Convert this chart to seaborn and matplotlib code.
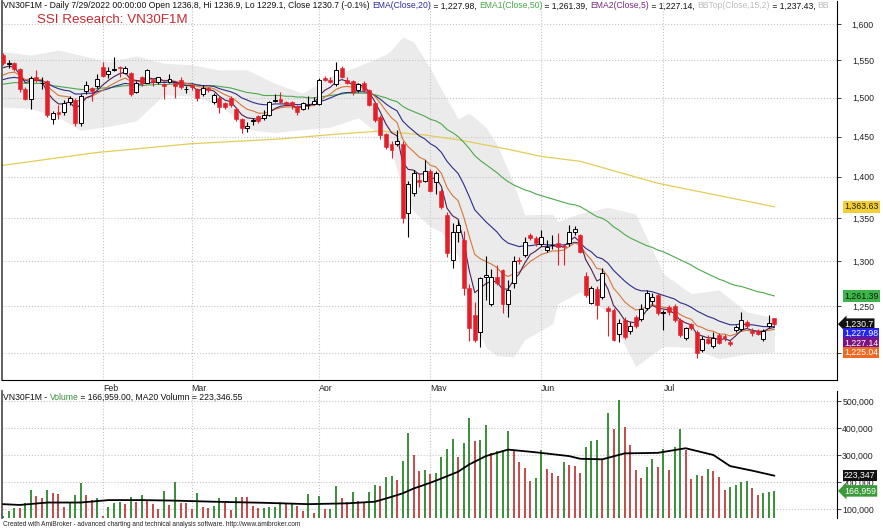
import matplotlib
matplotlib.use("Agg")
import matplotlib.pyplot as plt
import seaborn as sns
import numpy as np
from matplotlib.ticker import FixedLocator, NullLocator, FuncFormatter, NullFormatter

# ---------------- data ----------------
month_labels = ["Feb", "Mar", "Apr", "May", "Jun", "Jul"]
month_start_bar = [18, 34, 57, 77, 97, 119]

opens = [1557,1545,1546,1538,1512,1498,1527,1519,1522,1472,
 1482,1482,1494,1497,1467,1509,1513,1515,1541,1531,
 1537,1541,1533,1533,1508,1527,1520,1524,1521,1518,
 1521,1519,1524,1511,1517,1512,1505,1513,1494,1500,
 1493,1500,1485,1472,1461,1470,1476,1474,1477,1496,
 1499,1494,1494,1489,1486,1490,1492,1492,1526,1524,
 1518,1540,1524,1522,1510,1520,1510,1493,1475,1453,
 1441,1440,1441,1356,1380,1396,1395,1407,1394,1383,
 1354,1302,1334,1325,1270,1240,1222,1282,1253,1282,
 1290,1253,1276,1302,1307,1331,1327,1320,1313,1318.5,
 1321,1318,1321,1334,1330,1284,1254,1269,1260,1248,
 1246,1220,1235,1223,1238,1236,1248,1256,1262,1243,
 1249,1250,1235,1216,1231,1222,1203,1215,1207,1219,
 1218,1212,1224,1225,1233,1223,1223,1215,1229,1236.8]
highs = [1560,1551,1548,1540,1514,1529,1537,1528,1524,1483,
 1490,1497,1503,1500,1505,1522,1514,1531,1548,1541,
 1555,1542,1542,1534,1522,1529,1538,1526,1528,1519,
 1532,1520,1527,1516,1518,1513,1517,1514,1506,1502,
 1494,1502,1488,1474,1468,1474,1478,1484,1496,1505,
 1508,1496,1496,1491,1495,1503,1501,1526,1529,1527,
 1548,1542,1527,1524,1519,1522,1512,1494,1477,1455,
 1444,1458,1444,1395,1408,1405,1420,1409,1407,1385,
 1357,1345,1348,1335,1275,1255,1283,1306,1292,1296,
 1292,1279,1306,1305,1328,1333,1329,1336,1325,1330,
 1333,1320,1342,1341,1332,1288,1272,1272,1293,1250,
 1248,1236,1238,1233,1240,1252,1268,1265,1265,1246,
 1251,1253,1237,1228,1232,1224,1218,1219,1222,1221,
 1220,1214,1230,1244,1235,1226,1225,1225,1240,1236.9]
lows = [1544,1540,1535,1508,1497,1485,1521,1512,1475,1466,
 1472,1477,1491,1464,1464,1505,1496,1513,1527,1526,
 1536,1528,1531,1503,1506,1516,1519,1515,1518,1499,
 1519,1500,1511,1506,1510,1496,1503,1508,1492,1480,
 1486,1488,1470,1454,1456,1465,1467,1471,1476,1494,
 1493,1489,1486,1477,1484,1486,1490,1490,1522,1519,
 1516,1526,1518,1504,1507,1508,1489,1469,1447,1434,
 1423,1438,1344,1328,1376,1388,1393,1381,1379,1361,
 1305,1293,1322,1262,1213,1212,1206,1257,1250,1274,
 1243,1238,1270,1297,1305,1325,1318,1318,1311,1314,
 1296,1296,1318,1330,1310,1260,1252,1236,1258,1218,
 1213,1212,1215,1220,1226,1234,1246,1253,1241,1224,
 1241,1233,1217,1214,1224,1195,1201,1210,1205,1209,
 1213,1207,1222,1223,1226,1218,1219,1213,1226,1229.1]
closes = [1546,1547,1538,1511,1499,1526,1523,1520,1478,1480,
 1479,1493,1500,1467,1503,1517,1509,1525,1529,1535,
 1538,1539,1539,1505,1520,1520,1537,1521,1527,1516,
 1525,1515,1514,1512,1514,1500,1513,1510,1504,1488,
 1488,1490,1472,1461,1464,1471,1470,1478,1494,1497,
 1494,1492,1490,1482,1493,1491,1496,1524,1524,1521,
 1537,1528,1520,1507,1518,1510,1490,1471,1452,1437,
 1433,1444,1350,1391,1405,1393,1407,1383,1404,1364,
 1310,1334,1342,1270,1226,1214,1281,1285,1282,1276,
 1253,1268,1300,1300,1322,1327,1321,1328,1316,1319,
 1316,1317,1334,1337,1311,1262,1270,1251,1287,1245,
 1214,1232,1217,1229,1229,1247,1265,1260,1243,1244,
 1244,1235,1219,1226,1226,1200,1215,1211,1216,1211,
 1216,1210,1228,1235,1229,1221,1220,1223,1232,1230.7]
prev_close = 1232.0

ema5 = [1540,1542,1541,1531,1520,1522,1523,1522,1507,1498,
 1492,1492,1495,1486,1491,1500,1503,1510,1517,1523,
 1528,1532,1534,1524,1523,1522,1527,1525,1526,1522,
 1523,1521,1518,1516,1516,1510,1511,1511,1509,1502,
 1497,1495,1487,1478,1474,1473,1472,1474,1481,1486,
 1489,1490,1490,1487,1489,1490,1492,1503,1510,1514,
 1521,1524,1522,1517,1518,1515,1507,1495,1481,1466,
 1455,1451,1418,1409,1408,1403,1404,1397,1399,1388,
 1362,1353,1349,1323,1290,1265,1270,1275,1278,1277,
 1269,1269,1279,1286,1298,1308,1312,1317,1317,1318,
 1317,1317,1323,1328,1322,1302,1291,1278,1281,1269,
 1251,1244,1235,1233,1232,1237,1246,1251,1248,1247,
 1246,1242,1235,1232,1230,1220,1218,1216,1216,1214,
 1215,1213,1218,1224,1226,1224,1223,1223,1226,1227.14]
ema10 = [1530,1533,1534,1530,1524,1525,1524,1524,1515,1509,
 1503,1502,1501,1495,1497,1500,1502,1506,1510,1515,
 1519,1523,1526,1522,1522,1521,1524,1524,1524,1523,
 1523,1522,1520,1519,1518,1515,1514,1514,1512,1508,
 1504,1501,1496,1490,1485,1483,1480,1480,1482,1485,
 1487,1488,1488,1487,1488,1489,1490,1496,1501,1505,
 1511,1514,1515,1514,1514,1514,1509,1502,1493,1483,
 1474,1468,1447,1437,1431,1424,1421,1414,1412,1404,
 1387,1377,1371,1352,1329,1308,1303,1300,1297,1293,
 1286,1283,1286,1288,1294,1300,1304,1308,1310,1312,
 1312,1313,1317,1321,1319,1309,1302,1292,1291,1283,
 1270,1263,1255,1250,1246,1247,1250,1252,1250,1249,
 1248,1246,1241,1238,1236,1229,1227,1224,1223,1220,
 1220,1218,1220,1223,1224,1223,1223,1223,1224,1225.04]
ema20 = [1524,1526,1527,1526,1523,1524,1523,1523,1519,1515,
 1512,1510,1509,1505,1505,1506,1506,1508,1510,1512,
 1515,1517,1519,1518,1518,1518,1520,1520,1521,1520,
 1521,1520,1520,1519,1519,1517,1516,1516,1515,1512,
 1510,1508,1505,1500,1497,1494,1492,1491,1491,1492,
 1492,1492,1492,1491,1491,1491,1492,1495,1497,1500,
 1503,1506,1507,1507,1508,1508,1507,1503,1498,1492,
 1487,1483,1470,1463,1457,1451,1447,1441,1437,1430,
 1419,1411,1404,1391,1376,1360,1353,1346,1340,1334,
 1326,1321,1319,1317,1318,1318,1319,1320,1319,1319,
 1319,1319,1320,1322,1321,1315,1311,1305,1303,1298,
 1290,1284,1278,1273,1269,1267,1267,1266,1264,1262,
 1260,1258,1254,1252,1249,1245,1242,1239,1237,1234,
 1232,1230,1230,1231,1230,1230,1229,1228,1228,1227.98]
ema50 = [1518,1519,1520,1520,1519,1519,1519,1519,1518,1516,
 1515,1514,1513,1512,1511,1511,1511,1512,1513,1513,
 1514,1515,1516,1516,1516,1516,1517,1517,1518,1517,
 1518,1518,1518,1517,1517,1517,1516,1516,1516,1515,
 1514,1513,1511,1509,1507,1506,1505,1503,1503,1503,
 1503,1502,1502,1501,1501,1500,1500,1501,1502,1503,
 1504,1505,1506,1506,1506,1506,1506,1504,1502,1500,
 1497,1495,1489,1485,1482,1479,1476,1472,1470,1466,
 1459,1455,1450,1443,1435,1426,1420,1415,1410,1405,
 1399,1394,1390,1387,1384,1382,1379,1377,1375,1373,
 1371,1369,1367,1366,1364,1360,1356,1352,1350,1346,
 1340,1336,1331,1327,1324,1321,1318,1316,1313,1311,
 1308,1305,1302,1299,1296,1292,1289,1286,1283,1280,
 1278,1275,1273,1272,1270,1268,1266,1265,1263,1261.39]

yellow_idx = [0, 17, 34, 50, 60, 68, 76, 82, 91, 97, 104, 118, 139]
yellow_vals = [1414, 1430, 1441, 1447, 1453, 1457, 1452, 1446, 1434, 1425, 1419, 1392, 1363.63]

bb_idx = [0, 5, 10, 14, 19, 24, 29, 34, 39, 44, 49, 54, 59, 64, 69, 70, 72, 74, 77, 79,
          82, 84, 87, 89, 92, 94, 99, 100, 104, 109, 114, 119, 124, 129, 134, 139]
bb_upper = [1562, 1557, 1564, 1557, 1548, 1556, 1546, 1544, 1537, 1537, 1519, 1506, 1528, 1542,
            1558, 1564, 1582, 1575, 1539, 1511, 1473, 1480, 1462, 1440, 1392, 1354, 1355, 1346,
            1356, 1363, 1355, 1286, 1264, 1268, 1244, 1237.43]
bb_lower = [1488, 1486, 1475, 1458, 1463, 1470, 1504, 1502, 1492, 1459, 1455, 1459, 1462, 1474,
            1446, 1432, 1384, 1358, 1340, 1334, 1307, 1248, 1206, 1197, 1196, 1214, 1231, 1253,
            1266, 1243, 1186, 1207, 1206, 1194, 1199, 1201]

volumes = [74000,94000,104000,102000,121000,172000,148000,139000,172000,160000,
 157000,107000,127000,151000,195000,151000,133000,141000,74000,109000,
 124000,126000,117000,146000,127000,151000,133000,118000,99000,167000,
 113000,201000,124000,121000,99000,158000,109000,102000,111000,139000,
 121000,96000,146000,145000,143000,111000,102000,104000,106000,109000,
 127000,117000,119000,111000,94000,155000,84000,147000,99000,101000,
 185000,139000,127000,164000,129000,127000,164000,189000,187000,220000,
 222000,207000,277000,382000,300000,242000,243000,230000,232000,294000,
 322000,358000,291000,346000,438000,353000,356000,411000,309000,316000,
 318500,390000,318000,275000,253000,204000,216000,318000,248000,232000,
 223000,275000,263000,260000,232000,331000,353000,356000,281000,457000,
 395000,504000,405000,337000,244000,216000,257000,286000,257000,322000,
 244000,331000,396000,318000,210000,227000,223000,249000,242000,220000,
 170000,182000,190000,199000,205000,179000,152000,160000,163000,166959]

vol_ma_idx = [0, 3, 8, 14, 19, 25, 31, 38, 47, 55, 62, 67, 70, 72, 74, 76, 78, 82, 84, 87, 91,
              96, 102, 104, 108, 112, 118, 123, 126, 128, 131, 135, 139]
vol_ma_vals = [118000, 115000, 124000, 124000, 133000, 133000, 131000, 127000, 123000, 118000,
               121000, 127000, 145000, 158000, 176000, 190000, 205000, 238000, 265000, 296000,
               320000, 310000, 296000, 286000, 284000, 306000, 308000, 325000, 310000, 300000,
               259000, 242000, 223346.55]

price_ticks = [1200, 1250, 1300, 1350, 1400, 1450, 1500, 1550, 1600]
vol_ticks = [100000, 200000, 300000, 400000, 500000]

# ---------------- styling ----------------
sns.set_style("white")
plt.rcParams['font.family'] = ['Liberation Sans', 'DejaVu Sans']

W, H = 883, 529
fig = plt.figure(figsize=(W / 100, H / 100), dpi=100)
fig.patch.set_facecolor('white')


def fx(px):
    return px / W


def fy(py):
    return 1 - py / H


ax = fig.add_axes([fx(2), fy(380), (837 - 2) / W, (380 - 1) / H])
axv = fig.add_axes([fx(2), fy(518), (837 - 2) / W, (518 - 391) / H])

RED = '#e3202a'
GRID = '#c4c4c4'
n = len(closes)
idx = np.arange(n)
o = np.array(opens, float)
c = np.array(closes, float)
h = np.array(highs, float)
l = np.array(lows, float)
up = c >= o

ax.set_yscale('log')
ax.set_ylim(1172, 1632.5)

# Bollinger band area
ax.fill_between(bb_idx, bb_lower, bb_upper, color='#ebebeb', lw=0, zorder=0.3)

# indicator lines (seaborn)
sns.lineplot(x=yellow_idx, y=yellow_vals, ax=ax, color='#e2cd5a', lw=0.9, zorder=1.5)
sns.lineplot(x=idx, y=ema50, ax=ax, color='#4aaa4a', lw=0.8, zorder=1.6)
sns.lineplot(x=idx, y=ema20, ax=ax, color='#2c2c8c', lw=0.8, zorder=1.7)
sns.lineplot(x=idx, y=ema10, ax=ax, color='#d4773a', lw=0.8, zorder=1.8)
sns.lineplot(x=idx, y=ema5, ax=ax, color='#4e1f55', lw=0.8, zorder=1.9)

# candles
ax.vlines(idx[up], l[up], h[up], color='black', lw=0.8, zorder=3)
ax.vlines(idx[~up], l[~up], h[~up], color=RED, lw=0.8, zorder=3)
bw = 0.72
ax.bar(idx[up], c[up] - o[up], bottom=o[up], width=bw, color='white',
       edgecolor='black', lw=0.7, zorder=4)
ax.bar(idx[~up], o[~up] - c[~up], bottom=c[~up], width=bw, color=RED,
       edgecolor=RED, lw=0.4, zorder=4)

# volume
v = np.array(volumes, float)
vcol = ['#3a8e3a' if (i == 0 or v[i] > v[i - 1]) else '#c44a4a' for i in range(n)]
vbase, vtop = 66700, 537000
axv.set_ylim(vbase, vtop)
axv.vlines(idx, vbase, v, colors=vcol, lw=1.4, zorder=2)
sns.lineplot(x=vol_ma_idx, y=vol_ma_vals, ax=axv, color='black', lw=1.3, zorder=3)

# axes cosmetics
for a in (ax, axv):
    a.set_xlim(-0.18, 150.27)
    a.xaxis.set_major_locator(FixedLocator(month_start_bar))
    a.set_axisbelow(True)
    a.grid(True, which='major', color=GRID, ls=':', lw=0.8)
    a.set_xlabel('')
    a.set_ylabel('')
    a.spines['top'].set_visible(False)
    a.spines['left'].set_color('#555555')
    a.spines['left'].set_linewidth(1.3)
    a.spines['right'].set_color('black')
    a.spines['right'].set_linewidth(0.8)
    a.yaxis.tick_right()
    a.set_facecolor('white')

ax.spines['bottom'].set_color('black')
ax.spines['bottom'].set_linewidth(0.8)
axv.spines['bottom'].set_visible(False)

hidden_price_label = 1200  # covered by the value tags in the reference
ax.yaxis.set_major_locator(FixedLocator(price_ticks))
ax.yaxis.set_minor_locator(NullLocator())
ax.yaxis.set_minor_formatter(NullFormatter())
ax.yaxis.set_major_formatter(FuncFormatter(
    lambda val, p: '' if abs(val - hidden_price_label) < 1 else f"{val:,.0f}"))
axv.yaxis.set_major_locator(FixedLocator(vol_ticks))
axv.yaxis.set_major_formatter(FuncFormatter(lambda val, p: f"{val:,.0f}"))

for a in (ax, axv):
    a.tick_params(axis='y', which='major', direction='out', length=3, width=0.6,
                  pad=23.5, labelsize=6.3, colors='#222222')
    for t in a.yaxis.get_major_ticks():
        t.label2.set_horizontalalignment('right')

ax.set_xticklabels(month_labels)
ax.tick_params(axis='x', direction='out', length=3, width=0.6, pad=0.0,
               labelsize=6.3, colors='#222222')
for t in ax.xaxis.get_major_ticks():
    t.label1.set_horizontalalignment('left')
axv.tick_params(axis='x', length=0, labelbottom=False)


# ---------------- texts ----------------
def chain(host, x_px, y_px, pieces, size, clip=False):
    t = fig.text(fx(x_px), fy(y_px), pieces[0][0], color=pieces[0][1], fontsize=size,
                 ha='left', va='center', zorder=30)
    for s, col in pieces[1:]:
        t = host.annotate(s, xy=(1, 0.5), xycoords=t, ha='left', va='center', fontsize=size,
                          color=col, annotation_clip=False, clip_on=clip, zorder=30)
    return t


pct = (closes[-1] / prev_close - 1) * 100
head = (f"VN30F1M - Daily 7/29/2022 00:00:00 Open {opens[-1]}, Hi {highs[-1]}, "
        f"Lo {lows[-1]}, Close {closes[-1]} ({pct:.1f}%) ")
chain(ax, 3, 6, [(head, '#111111'),
                 ("EMA(Close,20)", '#2c2ca0'), (f" = {ema20[-1]:,.2f}, ", '#111111'),
                 ("EMA1(Close,50)", '#45a845'), (f" = {ema50[-1]:,.2f}, ", '#111111'),
                 ("EMA2(Close,5)", '#7a2a7a'), (f" = {ema5[-1]:,.2f}, ", '#111111'),
                 ("BBTop(Close,15,2)", '#bdbdbd'), (f" = {bb_upper[-1]:,.2f}, ", '#111111'),
                 ("BB", '#bdbdbd')], 6.2, clip=True)

fig.text(fx(37), fy(20), "SSI Research: VN30F1M", color='#c62a2f', fontsize=9.6,
         ha='left', va='center')

chain(axv, 3, 397, [("VN30F1M - ", '#111111'), ("Volume", '#3a8e3a'),
                    (f" = {volumes[-1]:,.2f}, MA20 Volumn = {vol_ma_vals[-1]:,.2f}", '#111111')],
      6.2)

fig.text(fx(3), fy(524), "Created with AmiBroker - advanced charting and technical analysis "
         "software. http://www.amibroker.com", color='#222222', fontsize=4.7,
         ha='left', va='center')


def tag(a, yval, text, fc, tc, off_px=0, arrow=False):
    style = 'larrow,pad=0.14' if arrow else 'square,pad=0.14'
    a.annotate(text, xy=(1, yval), xycoords=a.get_yaxis_transform(),
               xytext=(7, -off_px), textcoords='offset pixels', ha='left', va='center',
               fontsize=6.3, color=tc, bbox=dict(boxstyle=style, fc=fc, ec='none'),
               annotation_clip=False, zorder=20)


tag(ax, yellow_vals[-1], f"{yellow_vals[-1]:,.2f}", '#f3cf35', '#222222')
tag(ax, ema50[-1], f"{ema50[-1]:,.2f}", '#3cb44a', '#102010')
tag(ax, closes[-1], f"{closes[-1]:,.1f}", '#111111', 'white', arrow=True)
tag(ax, closes[-1], f"{ema20[-1]:,.2f}", '#2424ee', 'white', off_px=9.5)
tag(ax, closes[-1], f"{ema5[-1]:,.2f}", '#7b1280', 'white', off_px=19)
tag(ax, closes[-1], f"{ema10[-1]:,.2f}", '#ee6a22', 'white', off_px=28.5)
tag(axv, vol_ma_vals[-1], f"{vol_ma_vals[-1]:,.0f}", '#111111', 'white')
tag(axv, volumes[-1], f"{volumes[-1]:,.0f}", '#3a9a3a', 'white', arrow=True)

fig.savefig("out.png", dpi=100)
